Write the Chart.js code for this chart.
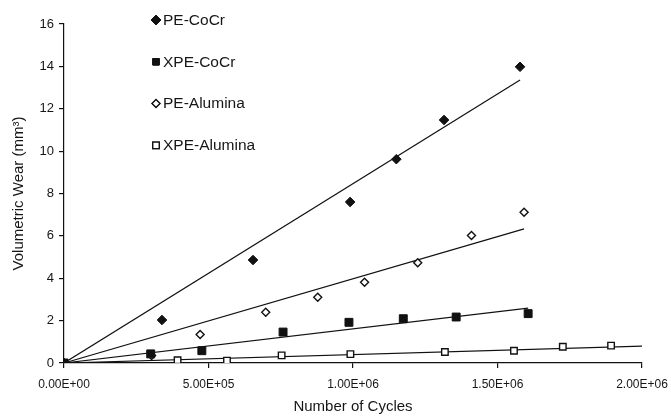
<!DOCTYPE html>
<html>
<head>
<meta charset="utf-8">
<script src="https://cdn.jsdelivr.net/npm/chart.js@4"></script>
<style>
  html, body { margin: 0; padding: 0; background: #fff; }
  #wrap { width: 671px; height: 417px; }
</style>
</head>
<body>
<div id="wrap"><canvas id="wear"></canvas></div>
<script>
Chart.defaults.color = '#161616';
Chart.defaults.font.family = 'Arial, "Liberation Sans", sans-serif';

const inkColor = '#111';

// cycles (x) and wear in mm3 (y)
const peCocrX = [0, 339000, 654000, 990000, 1150000, 1315000, 1578000];
const peCocrY = [0, 2.03, 4.86, 7.6, 9.62, 11.47, 13.98];

const xpeCocrX = [0, 300000, 477000, 758000, 986000, 1174000, 1357000, 1606000];
const xpeCocrY = [0, 0.43, 0.58, 1.46, 1.92, 2.09, 2.17, 2.33];

const peAluminaX = [0, 303000, 471000, 698000, 878000, 1040000, 1224000, 1410000, 1592000];
const peAluminaY = [0, 0.35, 1.35, 2.39, 3.1, 3.81, 4.73, 6.02, 7.12];

const xpeAluminaX = [0, 393000, 564000, 753000, 991000, 1318000, 1557000, 1726000, 1893000];
const xpeAluminaY = [0, 0.13, 0.11, 0.36, 0.42, 0.52, 0.58, 0.77, 0.82];

// trend line end points (start, end) as drawn in the figure
const peCocrFitX = [0, 1578000];
const peCocrFitY = [0, 13.36];
const xpeCocrFitX = [0, 1606000];
const xpeCocrFitY = [0, 2.59];
const peAluminaFitX = [0, 1592000];
const peAluminaFitY = [0, 6.33];
const xpeAluminaFitX = [0, 2000000];
const xpeAluminaFitY = [0, 0.8];

const xTicks = [0, 500000, 1000000, 1500000, 2000000];
const xTickLabels = ['0.00E+00', '5.00E+05', '1.00E+06', '1.50E+06', '2.00E+06'];
const yTicks = [0, 2, 4, 6, 8, 10, 12, 14, 16];

const seriesNames = ['PE-CoCr', 'XPE-CoCr', 'PE-Alumina', 'XPE-Alumina'];

const pts = (xs, ys) => xs.map((x, i) => ({ x: x, y: ys[i] }));

function markerSet(label, data, style, radius, filled) {
  return {
    label: label,
    type: 'scatter',
    data: data,
    showLine: false,
    pointStyle: style,
    pointRadius: radius,
    pointHoverRadius: radius,
    pointBorderWidth: filled ? 1 : 1.4,
    pointBorderColor: inkColor,
    pointBackgroundColor: filled ? inkColor : '#fff',
    order: 1
  };
}

function fitSet(data) {
  return {
    label: 'fit',
    type: 'line',
    data: data,
    borderColor: inkColor,
    borderWidth: 1.2,
    pointRadius: 0,
    tension: 0,
    fill: false,
    order: 2
  };
}

// legend drawn by hand, stacked down the upper left like the original
const stackedLegend = {
  id: 'stackedLegend',
  afterDraw(chart) {
    const ctx = chart.ctx;
    const markerX = 156;
    const top = 20;
    const step = 41.8;
    ctx.save();
    ctx.font = '15.5px Arial, "Liberation Sans", sans-serif';
    ctx.textBaseline = 'middle';
    chart.data.datasets.forEach((ds) => {
      if (ds.label === 'fit') return;
      const idx = seriesNames.indexOf(ds.label);
      const y = top + idx * step;
      Chart.helpers.drawPoint(ctx, {
        pointStyle: ds.pointStyle,
        radius: ds.pointStyle === 'rectRot' ? (ds.pointBackgroundColor === '#fff' ? 4 : 4.8) : 4.6,
        borderWidth: ds.pointBorderWidth
      }, markerX, y);
      ctx.fillStyle = ds.pointBackgroundColor;
      ctx.strokeStyle = inkColor;
      ctx.lineWidth = ds.pointBorderWidth;
      ctx.fill();
      ctx.stroke();
      ctx.fillStyle = '#161616';
      ctx.fillText(ds.label, markerX + 7, y + 0.5);
    });
    ctx.restore();
  }
};

new Chart(document.getElementById('wear'), {
  type: 'scatter',
  data: {
    datasets: [
      markerSet(seriesNames[0], pts(peCocrX, peCocrY), 'rectRot', 4.8, true),
      markerSet(seriesNames[1], pts(xpeCocrX, xpeCocrY), 'rect', 5.6, true),
      markerSet(seriesNames[2], pts(peAluminaX, peAluminaY), 'rectRot', 4, false),
      markerSet(seriesNames[3], pts(xpeAluminaX, xpeAluminaY), 'rect', 4.6, false),
      fitSet(pts(peCocrFitX, peCocrFitY)),
      fitSet(pts(xpeCocrFitX, xpeCocrFitY)),
      fitSet(pts(peAluminaFitX, peAluminaFitY)),
      fitSet(pts(xpeAluminaFitX, xpeAluminaFitY))
    ]
  },
  options: {
    responsive: true,
    maintainAspectRatio: false,
    animation: false,
    layout: {
      padding: { top: 24, right: 29, left: 0, bottom: 0 }
    },
    plugins: {
      legend: { display: false },
      tooltip: { enabled: false }
    },
    scales: {
      x: {
        type: 'linear',
        min: 0,
        max: 2000000,
        afterFit(scale) {
          scale.height = 54;
          scale.paddingLeft = 0;
          scale.paddingRight = 0;
        },
        afterBuildTicks(scale) { scale.ticks = xTicks.map(v => ({ value: v })); },
        ticks: {
          padding: 9,
          maxRotation: 0,
          font: { size: 12 },
          callback(value) { return xTickLabels[xTicks.indexOf(value)]; }
        },
        grid: {
          display: true,
          drawOnChartArea: false,
          drawTicks: true,
          tickLength: 5,
          color: inkColor,
          lineWidth: 1.2
        },
        border: { display: true, color: inkColor, width: 1.2 },
        title: {
          display: true,
          text: 'Number of Cycles',
          font: { size: 15 },
          padding: { top: 6, bottom: 1 }
        }
      },
      y: {
        type: 'linear',
        min: 0,
        max: 16,
        afterFit(scale) { scale.width = 64; },
        afterBuildTicks(scale) { scale.ticks = yTicks.map(v => ({ value: v })); },
        ticks: {
          padding: 5,
          font: { size: 13 }
        },
        grid: {
          display: true,
          drawOnChartArea: false,
          drawTicks: true,
          tickLength: 5,
          color: inkColor,
          lineWidth: 1.2
        },
        border: { display: true, color: inkColor, width: 1.2 },
        title: {
          display: true,
          text: 'Volumetric Wear (mm\u00B3)',
          font: { size: 15 },
          padding: { top: 10, bottom: 4 }
        }
      }
    }
  },
  plugins: [stackedLegend]
});
</script>
</body>
</html>
